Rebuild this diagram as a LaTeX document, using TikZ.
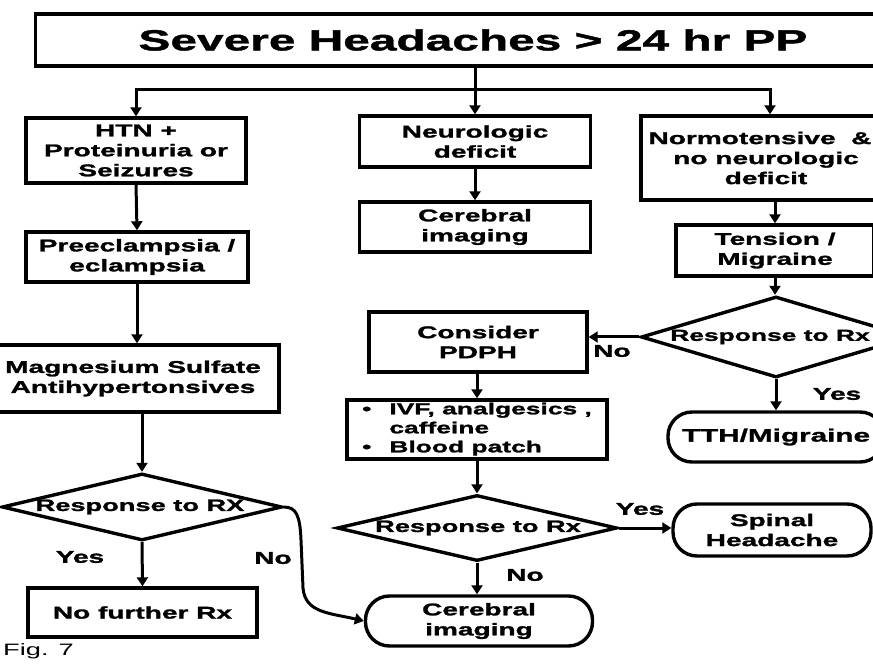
\documentclass[tikz,border=0pt]{standalone}
\usepackage{fontspec}
\setmainfont{Liberation Sans}[FakeStretch=1.65, BoldFeatures={FakeBold=1.5}]
\usetikzlibrary{arrows.meta,shapes.geometric,calc}
\newcommand\bodyfnt{\fontsize{17}{20}\selectfont\bfseries}
\newcommand\diafnt{\fontsize{16.5}{19}\selectfont\bfseries}
\newcommand\ivffnt{\fontsize{16}{19}\selectfont\bfseries}
\newcommand\ttlfnt{\fontsize{29}{34}\selectfont\bfseries}
\begin{document}
\begin{tikzpicture}[x=1pt,y=-1pt,
  box/.style={draw, line width=3.4pt, inner sep=1pt, align=center, font=\bodyfnt},
  stad/.style={box, rounded corners=24pt},
  dia/.style={draw, diamond, line width=3.4pt, inner sep=0pt},
  arr/.style={line width=3pt, -{Triangle[length=9pt,width=11pt]}},
  lbl/.style={font=\bodyfnt, inner sep=0pt}]
\useasboundingbox (0,0) rectangle (873,668);
\fill[white] (0,0) rectangle (873,668);
\clip (0,0) rectangle (873,668);

% title
\node[box, font=\ttlfnt, minimum width=875, minimum height=52] (title) at (473,40) {Severe Headaches > 24 hr PP};

% left column
\node[box, minimum width=220, minimum height=65] (htn) at (136,150.5) {HTN +\\Proteinuria or\\Seizures};
\node[box, minimum width=222, minimum height=50] (pre) at (137,257) {Preeclampsia /\\eclampsia};
\node[box, minimum width=292, minimum height=67] (mag) at (133,378.5) {Magnesium Sulfate\\Antihypertonsives};
\node[dia, minimum width=280, minimum height=67] (dl) at (142,507) {};
\node[font=\diafnt, inner sep=0pt] (dlt) at (140,507) {Response to RX};
\node[box, minimum width=229, minimum height=49] (norx) at (142.5,612.5) {No further Rx};

% middle column
\node[box, minimum width=231, minimum height=51] (neuro) at (475,141.5) {Neurologic\\deficit};
\node[box, minimum width=231, minimum height=50] (cer1) at (475,227) {Cerebral\\imaging};
\node[box, minimum width=218, minimum height=60] (pdph) at (478,342) {Consider\\PDPH};
\node[box, font=\ivffnt, minimum width=260, minimum height=59] (ivf) at (477,429.5)
  {\begin{tabular}{@{}l@{\hspace{18pt}}l@{}}\textbullet & IVF, analgesics ,\\ & caffeine\\ \textbullet & Blood patch\end{tabular}};
\node[dia, minimum width=280, minimum height=66] (dm) at (477,528) {};
\node[font=\diafnt, inner sep=0pt] (dmt) at (478,528) {Response to Rx};
\node[stad, minimum width=227, minimum height=50] (cer2) at (479,621) {Cerebral\\imaging};

% right column
\node[box, minimum width=250, minimum height=84] (normo) at (766,158) {Normotensive \ \&\kern12pt\\no neurologic\\deficit};
\node[box, minimum width=198, minimum height=51] (tens) at (775,250.5) {Tension /\\Migraine};
\node[dia, minimum width=270, minimum height=81] (dr) at (776,337) {};
\node[font=\fontsize{16}{19}\selectfont\bfseries, inner sep=0pt] (drt) at (770,337) {Response to Rx};
\node[stad, font=\fontsize{18}{20}\selectfont\bfseries, minimum width=216, minimum height=50] (tth) at (776,437) {TTH/Migraine};
\node[stad, minimum width=198, minimum height=52] (spin) at (772,530) {Spinal\\Headache};

% labels
\node[lbl] (l1) at (612,351) {No};
\node[lbl] (l2) at (837,394) {Yes};
\node[lbl] (l3) at (80,557) {Yes};
\node[lbl] (l4) at (273,558) {No};
\node[lbl] (l5) at (640,509) {Yes};
\node[lbl] (l6) at (525,575) {No};
\node[font=\fontsize{16.5}{19}\selectfont, anchor=west, inner sep=0pt] (fig) at (3,651) {Fig. 7};

% connectors
\coordinate (jm) at (475,90);
\coordinate (jr) at (770,90);
\draw[arr] (title.south -| neuro.north) -- (neuro.north);
\draw[arr] (jm) -| (htn.north);
\draw[arr] (jm) -- (jr) -- (jr |- normo.north);
\draw[arr] (htn.south) -- (pre.north);
\draw[arr] (pre.south) -- (pre.south |- mag.north);
\draw[arr] (mag.south -| dl.north) -- (dl.north);
\draw[arr] (dl.south) -- (norx.north);
\coordinate (c1) at (301,540);
\coordinate (c2) at (303,588);
\draw[arr] (dl.east) .. controls (296,507) and (300,515) .. (c1) -- (c2) .. controls (305,613) and (330,613) .. (cer2.west);
\draw[arr] (neuro.south) -- (cer1.north);
\draw[arr] (normo.south -| tens.north) -- (tens.north);
\draw[arr] (tens.south) -- (tens.south |- dr.north);
\draw[arr] (dr.west) -- (dr.west -| pdph.east);
\draw[arr] (dr.south) -- (tth.north);
\draw[arr] (pdph.south -| ivf.north) -- (ivf.north);
\draw[arr] (ivf.south) -- (dm.north);
\draw[arr] (dm.east) -- (dm.east -| spin.west);
\draw[arr] (dm.south) -- (dm.south |- cer2.north);
\end{tikzpicture}
\end{document}
